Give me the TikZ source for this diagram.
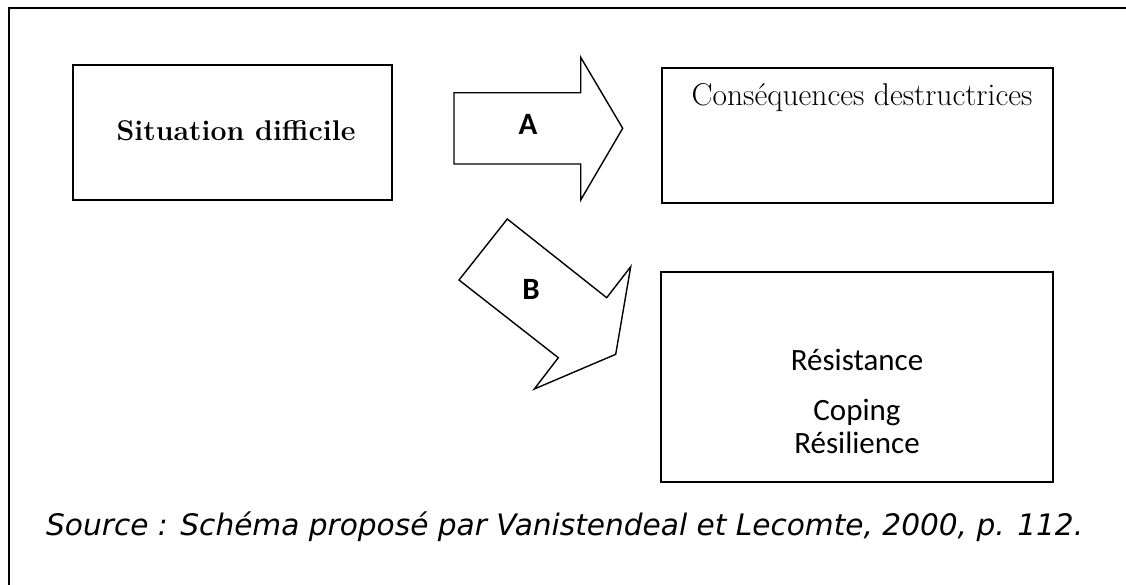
\documentclass[tikz,border=0pt]{standalone}
\usepackage{fontspec}
\newfontfamily\calibri{Carlito}
\newfontfamily\verd{DejaVu Sans}
\begin{document}
\begin{tikzpicture}[x=1pt,y=-1pt,
  box/.style={draw=black,line width=1.8pt,minimum width=#1,inner sep=0pt},
  blockarrow/.style={draw=black,line width=1.4pt,line join=miter},
  sansbig/.style={font=\calibri\fontsize{31}{36}\selectfont}]
\useasboundingbox (0,0) rectangle (1126,584);
\draw[line width=2.2pt] (1130,8) -- (9,8) -- (9,590);
% boxes
\node[box=319pt,minimum height=135pt] (sit) at (232.5,132.5) {};
\node[font=\bfseries\fontsize{28.5}{32}\selectfont] (sittxt) at (236,131) {Situation difficile};
\node[box=391pt,minimum height=135pt] (cons) at (857.5,135.5) {};
\node[font=\fontsize{31.5}{36}\selectfont,anchor=base] (constxt) at (862,105) {Conséquences destructrices};
\node[box=392pt,minimum height=210pt] (res) at (857,377) {};
\node[sansbig,anchor=base] (r1) at (857,370) {Résistance};
\node[sansbig,anchor=base] (r2) at (857,420) {Coping};
\node[sansbig,anchor=base] (r3) at (857,453) {Résilience};
% arrow A
\draw[blockarrow] (454,92.7) -- (580.7,92.7) -- (580.7,57.3) -- (622.7,128.3)
  -- (580.7,200) -- (580.7,164) -- (454,164) -- cycle;
\node[font=\calibri\bfseries\fontsize{31}{36}\selectfont] (la) at (528,124) {A};
% arrow B
\draw[blockarrow] (507.3,219) -- (606.7,297.7) -- (630.7,266.7) -- (615.7,354.3)
  -- (534.3,389) -- (558.3,357.7) -- (459,280) -- cycle;
\node[font=\calibri\bfseries\fontsize{31}{36}\selectfont] (lb) at (531,289) {B};
% source
\node[font=\verd\itshape\fontsize{29.6}{34}\selectfont,anchor=base west,inner sep=0pt] (src) at (46,535) {Source : Schéma proposé par Vanistendeal et Lecomte, 2000, p. 112.};
\end{tikzpicture}
\end{document}
